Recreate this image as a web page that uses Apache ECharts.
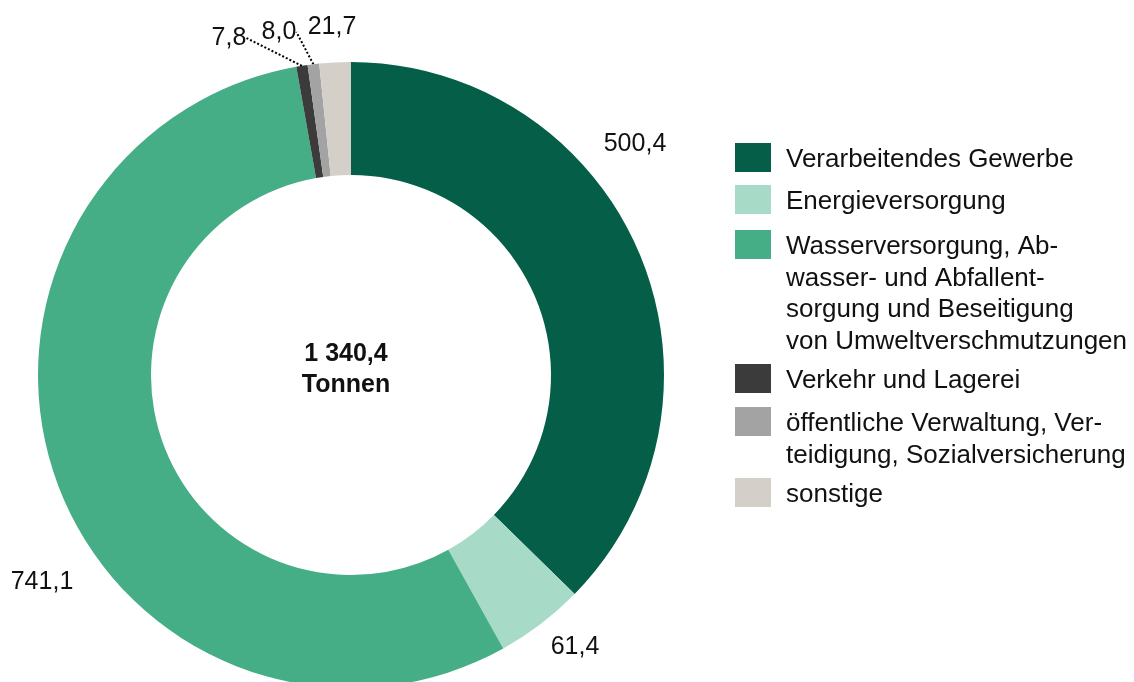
<!DOCTYPE html>
<html>
<head>
<meta charset="utf-8">
<script src="https://cdn.jsdelivr.net/npm/echarts@6/dist/echarts.min.js"></script>
<style>
  html, body { margin: 0; padding: 0; background: #fff; }
  #chart { width: 1134px; height: 682px; }
</style>
</head>
<body>
<div id="chart"></div>
<script>
// data
const categories = [
  'Verarbeitendes Gewerbe',
  'Energieversorgung',
  'Wasserversorgung, Ab-\nwasser- und Abfallent-\nsorgung und Beseitigung\nvon Umweltverschmutzungen',
  'Verkehr und Lagerei',
  'öffentliche Verwaltung, Ver-\nteidigung, Sozialversicherung',
  'sonstige'
]
const values = [500.4, 61.4, 741.1, 7.8, 8.0, 21.7]
const valueLabels = ['500,4', '61,4', '741,1', '7,8', '8,0', '21,7']
const totalLabel = '1 340,4'
const unitLabel = 'Tonnen'

const colors = ['#055e48', '#a7dbc8', '#45ae86', '#3b3b3b', '#a3a3a3', '#d4d0c9']
const font = '"Liberation Sans", Arial, sans-serif'

// where the value labels sit (label centres)
const labelPos = [[635, 144], [575, 647], [42, 582], [229, 38], [279, 32], [332, 27]]
const withLine = [false, false, false, true, true, false]

// legend layout
const legendTops = [143, 185, 230, 364, 407, 478]
const legendGraphics = []
categories.forEach((name, i) => {
  legendGraphics.push({
    type: 'rect',
    shape: { x: 735, y: legendTops[i], width: 36, height: 29 },
    style: { fill: colors[i] }
  })
  legendGraphics.push({
    type: 'text',
    x: 786,
    y: legendTops[i] + 1,
    style: {
      text: name,
      font: '26px ' + font,
      lineHeight: 31.7,
      fill: '#111',
      verticalAlign: 'top'
    }
  })
})

const chart = echarts.init(document.getElementById('chart'))
chart.setOption({
  animation: false,
  graphic: legendGraphics.concat([
    {
      type: 'text',
      x: 346,
      y: 370,
      style: {
        text: totalLabel + '\n' + unitLabel,
        font: 'bold 25px ' + font,
        lineHeight: 31,
        fill: '#111',
        align: 'center',
        verticalAlign: 'middle'
      }
    }
  ]),
  series: [
    {
      type: 'pie',
      center: [351, 375],
      radius: [200, 313],
      startAngle: 90,
      clockwise: true,
      avoidLabelOverlap: false,
      itemStyle: { borderWidth: 0 },
      emphasis: { disabled: true },
      data: values.map((v, i) => ({
        name: categories[i],
        value: v,
        itemStyle: { color: colors[i] },
        label: {
          show: true,
          position: 'outside',
          formatter: valueLabels[i],
          fontFamily: font,
          fontSize: 25,
          color: '#111'
        },
        labelLine: {
          show: withLine[i],
          length: 8,
          length2: 0,
          lineStyle: { color: '#000', width: 2, type: 'dotted' }
        }
      })),
      labelLayout: function (params) {
        const p = labelPos[params.dataIndex]
        return { x: p[0], y: p[1], align: 'center', verticalAlign: 'middle' }
      }
    }
  ]
})
</script>
</body>
</html>
